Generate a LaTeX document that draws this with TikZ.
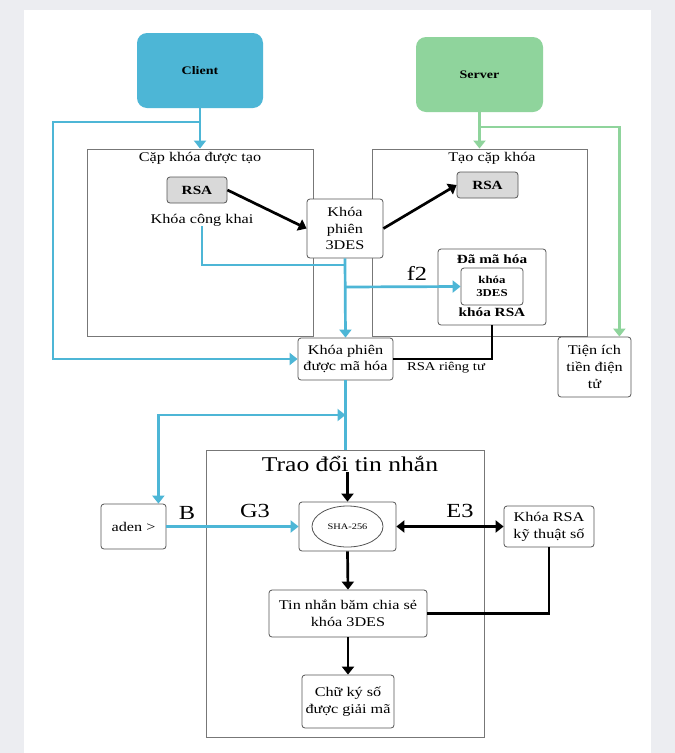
\documentclass[tikz,border=0pt]{standalone}
\usepackage{fontspec}
\setmainfont[FakeStretch=1.22]{Liberation Serif}
\usetikzlibrary{arrows.meta,calc,shapes.geometric}
\definecolor{bgc}{HTML}{ECEDF1}
\definecolor{cblue}{HTML}{4DB6D6}
\definecolor{cgreen}{HTML}{8FD49C}
\definecolor{rsag}{HTML}{D9D9D9}
\definecolor{bordg}{HTML}{555555}
\definecolor{contg}{HTML}{777777}
\tikzset{
  box/.style={draw=bordg, line width=0.8pt, rounded corners=3pt, fill=white, align=center, inner sep=1pt,
    font=\fontsize{13.3}{16.8}\selectfont},
  rsabox/.style={box, fill=rsag, font=\fontsize{12.5}{15}\selectfont\bfseries},
  cont/.style={draw=contg, line width=0.9pt},
  head/.style={draw=none, fill=none, rounded corners=10pt, font=\fontsize{11.5}{14}\selectfont\bfseries},
  bluel/.style={draw=cblue, line width=2.7pt, -{Triangle[length=8pt,width=12pt]}},
  bluen/.style={draw=cblue, line width=2.7pt},
  greenl/.style={draw=cgreen, line width=2.7pt, -{Triangle[length=8pt,width=12pt]}},
  blackl/.style={draw=black, line width=2.7pt, -{Triangle[length=8pt,width=12pt]}},
  blackn/.style={draw=black, line width=2.7pt},
  biglab/.style={font=\fontsize{20}{22}\selectfont, inner sep=0pt},
  txt/.style={font=\fontsize{13.3}{16}\selectfont, inner sep=0pt, align=center},
}
\begin{document}
\begin{tikzpicture}[x=1pt,y=-1pt]
\useasboundingbox (0,0) rectangle (675,753);
\fill[bgc] (0,0) rectangle (675,753);
\fill[white] (24,10) rectangle (651,753);

% containers
\node[cont, minimum width=226pt, minimum height=187pt, inner sep=0pt] (leftbox) at (200,242.5) {};
\node[txt] (lefttitle) at (200,158) {Cặp khóa được tạo};
\node[cont, minimum width=215pt, minimum height=187pt, inner sep=0pt] (rightbox) at (479.5,242.5) {};
\node[txt] (righttitle) at (492,158) {Tạo cặp khóa};
\node[cont, minimum width=278pt, minimum height=287pt, inner sep=0pt] (exbox) at (345,593.5) {};
\node[font=\fontsize{21}{24}\selectfont, inner sep=0pt] (extitle) at (350,464) {Trao đổi tin nhắn};

% heads
\node[head, fill=cblue, minimum width=126pt, minimum height=75pt] (client) at (200,70.5) {Client};
\node[head, fill=cgreen, minimum width=127pt, minimum height=75pt] (server) at (479.5,74.5) {Server};

% nodes
\node[rsabox, minimum width=60pt, minimum height=26pt] (rsaL) at (197,190) {RSA};
\node[txt] (pubkey) at (202,220) {Khóa công khai};
\node[box, minimum width=76pt, minimum height=59pt] (k3des) at (345,228.5) {Khóa\\phiên\\3DES};
\node[rsabox, minimum width=61pt, minimum height=26pt] (rsaR) at (487.5,185) {RSA};
\node[box, minimum width=108pt, minimum height=76pt] (enc) at (492,287) {};
\node[txt, font=\fontsize{12.5}{15}\selectfont\bfseries] (enctitle) at (492,259) {Đã mã hóa};
\node[box, minimum width=62pt, minimum height=37pt, font=\fontsize{10.5}{13}\selectfont\bfseries] (inner) at (492,286.5) {khóa\\3DES};
\node[txt, font=\fontsize{12.5}{15}\selectfont\bfseries] (encfoot) at (492,312) {khóa RSA};
\node[box, minimum width=95pt, minimum height=42pt] (kenc) at (345.5,359) {Khóa phiên\\được mã hóa};
\node[box, minimum width=73pt, minimum height=60pt] (tien) at (594.5,367) {Tiện ích\\tiền điện\\tử};

\node[box, minimum width=97pt, minimum height=49pt] (sha) at (347.5,526.5) {};
\node[draw=bordg, line width=0.8pt, ellipse, minimum width=71pt, minimum height=41pt, inner sep=0pt, font=\fontsize{8.5}{10}\selectfont] (shaell) at (347.5,526.5) {SHA-256};
\node[box, minimum width=65pt, minimum height=45pt] (aden) at (133.5,526.5) {aden >};
\node[box, minimum width=90pt, minimum height=41pt] (krsa) at (549,526.5) {Khóa RSA\\kỹ thuật số};
\node[box, minimum width=158pt, minimum height=47pt] (msg) at (348,613.5) {Tin nhắn băm chia sẻ\\khóa 3DES};
\node[box, minimum width=92pt, minimum height=53pt] (sig) at (348,701.5) {Chữ ký số\\được giải mã};

% labels
\node[biglab] (lf2) at (417,273) {f2};
\node[biglab] (lB) at (187,513) {B};
\node[biglab] (lG3) at (255,511) {G3};
\node[biglab] (lE3) at (460,511) {E3};
\node[txt, font=\fontsize{12}{14}\selectfont] (lrsapriv) at (446,368) {RSA riêng tư};

% blue connectors
\coordinate (cb) at (200,122);
\draw[bluel] (client.south) -- (leftbox.north);
\draw[bluel] (cb) -- (53,122) -- (53,359) -- (kenc.west);
\coordinate (pk1) at (202,265);
\coordinate (pk2) at (k3des.south |- pk1);
\draw[bluen] (pubkey.south) -- (pk1) -- (pk2);
\draw[bluel] (k3des.south) -- (kenc.north);
\coordinate (f2b) at (345,287);
\draw[bluel] (f2b) -- (inner.west);
\coordinate (jb) at (kenc.south |- 0,415);
\draw[bluen] (kenc.south) -- (exbox.north -| kenc.south);
\draw[draw=cblue, line width=2.7pt, {Triangle[length=8pt,width=12pt]}-{Triangle[length=8pt,width=12pt]}]
  ([xshift=-8pt]aden.north east) |- (jb);
\draw[bluel] (aden.east) -- (sha.west);

% green connectors
\coordinate (gb) at (479.5,127);
\draw[greenl] (server.south) -- (rightbox.north);
\draw[greenl] (gb) -| ([xshift=-12pt]tien.north east);

% black connectors
\draw[blackl] (rsaL.east) -- (k3des.west);
\draw[blackl] (k3des.east) -- (rsaR.west);
\draw[blackn] (enc.south) |- (kenc.east);
\draw[blackl] (extitle.south -| sha.north) -- (sha.north);
\draw[draw=black, line width=2.7pt, {Triangle[length=8pt,width=12pt]}-{Triangle[length=8pt,width=12pt]}] (sha.east) -- (krsa.west);
\draw[blackn] (krsa.south) |- (msg.east);
\draw[blackl] (sha.south) -- (msg.north);
\draw[blackl] (msg.south) -- (sig.north);
\end{tikzpicture}
\end{document}
